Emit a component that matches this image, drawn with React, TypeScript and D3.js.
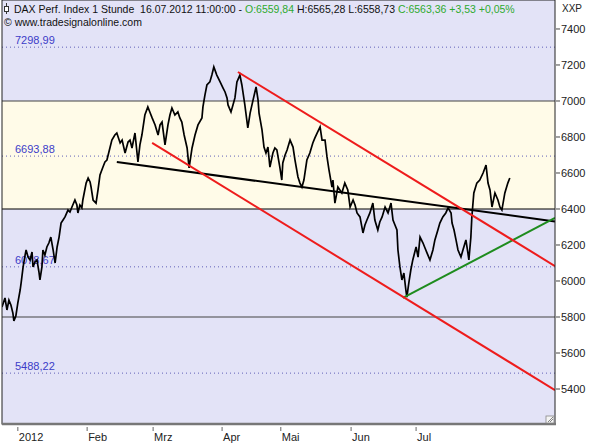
import React from "react";
import * as d3 from "d3";

// Price series: [session index (trading days), price]
const priceT = [0,0.9,1.5,2.1,2.7,3.3,3.6,4.2,4.8,5.5,5.8,6.4,7.0,7.3,7.9,8.5,9.1,9.4,10.0,10.6,11.2,11.5,12.1,12.4,13.0,13.6,14.2,14.8,15.5,16.1,16.7,17.3,17.9,18.5,19.1,20.0,20.6,21.2,22.1,22.7,23.0,23.6,24.2,24.5,25.5,26.1,26.7,27.0,27.6,28.5,29.1,29.7,30.6,31.2,31.8,32.7,33.3,34.2,34.8,35.8,36.4,37.3,38.2,38.8,39.4,40.3,41.2,41.8,42.4,43.3,44.2,44.8,45.5,46.4,47.3,47.9,48.5,49.4,50.3,50.9,51.5,52.4,53.3,53.9,54.5,55.2,56.1,56.7,57.6,58.5,59.4,60.6,60.9,61.5,62.1,63.0,63.6,64.2,65.1,66.1,67.0,67.6,68.2,68.5,69.4,70.0,70.6,71.2,72.1,72.7,73.6,74.5,75.2,76.1,77.0,77.6,77.9,78.8,79.4,80.0,80.6,81.2,82.1,82.7,83.3,84.2,84.8,85.1,85.8,86.4,87.3,88.2,88.8,89.7,90.3,90.9,91.5,92.4,93.3,94.2,94.8,95.5,96.4,97.0,97.9,98.5,99.1,100.0,100.3,100.9,101.8,102.4,103.0,103.9,104.8,105.5,106.4,107.0,107.6,108.5,109.4,110.0,110.6,111.5,112.4,113.0,113.9,114.5,115.2,116.1,117.0,117.9,118.5,119.1,119.7,120.0,120.6,121.2,121.8,122.4,122.7,123.3,123.9,124.5,125.5,126.1,126.7,127.6,128.2,128.8,129.7,130.6,131.2,132.1,132.7,133.6,134.5,135.2,136.1,136.4,137.0,137.6,138.2,139.1,139.7,140.6,141.2,141.5,142.1,142.4,143.0,143.9,144.8,145.8,146.7,147.3,147.9,148.5,149.4,150.3,150.9,151.5,152.4,153.3,153.9];
const priceV = [5856,5906,5839,5894,5867,5822,5778,5806,5878,5950,5989,6078,6144,6172,6133,6117,6161,6078,6106,6117,6050,6006,6078,6172,6144,6189,6211,6244,6172,6100,6189,6244,6322,6339,6356,6394,6383,6411,6450,6422,6378,6422,6406,6450,6544,6572,6550,6522,6450,6433,6506,6589,6633,6661,6672,6739,6783,6811,6822,6767,6783,6711,6772,6783,6739,6822,6661,6756,6811,6922,6967,6939,6906,6867,6811,6867,6883,6756,6867,6922,6961,6922,6939,6906,6883,6811,6739,6628,6739,6811,6867,6906,6967,7033,7089,7106,7144,7189,7144,7106,7072,7050,7017,6978,6939,6978,7017,7106,7144,7089,6978,6850,6933,7006,7078,7006,6933,6839,6744,6711,6744,6633,6711,6739,6728,6633,6561,6656,6700,6728,6783,6744,6672,6578,6544,6522,6561,6672,6711,6767,6794,6822,6856,6783,6783,6689,6617,6522,6561,6433,6522,6506,6489,6544,6506,6411,6450,6422,6378,6356,6267,6311,6339,6378,6433,6339,6283,6328,6356,6411,6378,6433,6339,6311,6283,6172,6078,6006,6044,5950,5911,5989,6061,6117,6189,6133,6244,6211,6183,6156,6117,6172,6228,6283,6322,6356,6378,6406,6378,6322,6283,6228,6172,6133,6172,6228,6156,6117,6244,6356,6489,6544,6561,6600,6644,6544,6506,6411,6489,6450,6411,6394,6489,6544,6572];

// Trend lines: [t0, v0, t1, v1]
const blackTrend = [34.8, 6661, 167.6, 6331];
const greenTrend = [121.5, 5906, 167.6, 6350];
const redUpper = [71.5, 7161, 167.6, 6083];
const redLower = [45.5, 6767, 167.6, 5394];

// Horizontal levels
const bandLow = 6400;
const bandHigh = 7000;
const solidLevels = [7000, 6400, 5800];
const dottedLevels = [7298.99, 6693.88, 6078.67, 5488.22];
const dottedLabels = ["7298,99", "6693,88", "6078,67", "5488,22"];

// Axes
const yTicks = [7400, 7200, 7000, 6800, 6600, 6400, 6200, 6000, 5800, 5600, 5400];
const xTickPos = [4.8, 25.8, 45.8, 66.7, 84.5, 105.8, 125.5];
const xTickLabels = ["2012", "Feb", "Mrz", "Apr", "Mai", "Jun", "Jul"];

const W = 595, H = 446;
const L = 2, R = 555, T = 0, B = 424;
const FONT = "Liberation Sans, Arial, sans-serif";

export default function App() {
  const x = d3.scaleLinear().domain([0, 167.6]).range([L, R]);
  const y = d3.scaleLinear().domain([5205.6, 7561]).range([B, T]);
  const line = d3.line<number>().x((_, i) => x(priceT[i])).y((v) => y(v));
  const seg = (a: number[]) => ({ x1: x(a[0]), y1: y(a[1]), x2: x(a[2]), y2: y(a[3]) });
  const bk = seg(blackTrend), gr = seg(greenTrend), ru = seg(redUpper), rl = seg(redLower);
  const green = "#2eaa2e";
  return (
    <div style={{ position: "absolute", left: 0, top: 0 }}>
      <svg width={W} height={H} style={{ display: "block", background: "#fff" }} fontFamily={FONT}>
        <defs>
          <clipPath id="plot"><rect x={L} y={T} width={R - L} height={B - T} /></clipPath>
        </defs>
        <rect x={L} y={T} width={R - L} height={B - T} fill="#e3e3f7" />
        <rect x={L} y={y(bandHigh)} width={R - L} height={y(bandLow) - y(bandHigh)} fill="#fffbe8" />
        {dottedLevels.map((v, i) => (
          <g key={"d" + i}>
            <line x1={L} x2={R} y1={y(v)} y2={y(v)} stroke="#6060b8" strokeWidth={1} strokeDasharray="1,3" />
            <text x={15} y={y(v) - 3} fontSize={11} fill="#3c3cc8">{dottedLabels[i]}</text>
          </g>
        ))}
        {solidLevels.map((v, i) => (
          <line key={"s" + i} x1={L} x2={R} y1={y(v)} y2={y(v)} stroke={v === 6400 ? "#000" : "#444"} strokeWidth={1.2} />
        ))}
        <g clipPath="url(#plot)">
          <path d={line(priceV) || ""} fill="none" stroke="#000" strokeWidth={1.7} strokeLinejoin="miter" />
          <line {...bk} stroke="#000" strokeWidth={2} />
          <line {...gr} stroke={"#1e8c1e"} strokeWidth={2} />
          <line {...ru} stroke="#ee1c1c" strokeWidth={2} />
          <line {...rl} stroke="#ee1c1c" strokeWidth={2} />
        </g>
        <rect x={L} y={T} width={R - L} height={B - T} fill="none" stroke="#222" strokeWidth={1} />
        <line x1={L} x2={R + 1} y1={B} y2={B} stroke="#777" strokeWidth={2.5} />
        <g transform={`translate(${R - 9},${B - 8})`}>
          <rect x={0} y={0} width={8} height={7} fill="#f4f4f4" stroke="#888" strokeWidth={0.8} />
          <path d="M2,6 L7,1 M4,6 L7,3" stroke="#666" strokeWidth={0.8} />
        </g>
        {/* right axis */}
        {yTicks.map((v) => (
          <g key={"y" + v}>
            <line x1={R + 1} x2={R + 5} y1={y(v)} y2={y(v)} stroke="#444" />
            <text x={R + 6} y={y(v) + 4} fontSize={11} fill="#222">{v}</text>
          </g>
        ))}
        <text x={562} y={12} fontSize={10} fill="#222">XXP</text>
        {/* bottom axis */}
        {xTickPos.map((t, i) => (
          <g key={"x" + i}>
            <line x1={x(t)} x2={x(t)} y1={B + 3} y2={B + 7} stroke="#666" />
            <text x={x(t) + 1} y={441} fontSize={11} fill="#222">{xTickLabels[i]}</text>
          </g>
        ))}
        {/* header */}
        <g stroke="#333" fill="none" strokeWidth={1}>
          <line x1={6.5} x2={6.5} y1={3} y2={14} />
          <rect x={4.5} y={6.5} width={4} height={5} fill="#fff" />
        </g>
        <text x={14} y={13} fontSize={10.5} fill="#111">
          <tspan>{"DAX Perf. Index 1 Stunde\u00a0\u00a016.07.2012 11:00:00 - "}</tspan>
          <tspan fill={green}>O:6559,84</tspan>
          <tspan>{"\u00a0H:6565,28 L:6558,73\u00a0"}</tspan>
          <tspan fill={green}>C:6563,36 +3,53 +0,05%</tspan>
        </text>
        <text x={4} y={26} fontSize={10.5} fill="#111">© www.tradesignalonline.com</text>
      </svg>
    </div>
  );
}
